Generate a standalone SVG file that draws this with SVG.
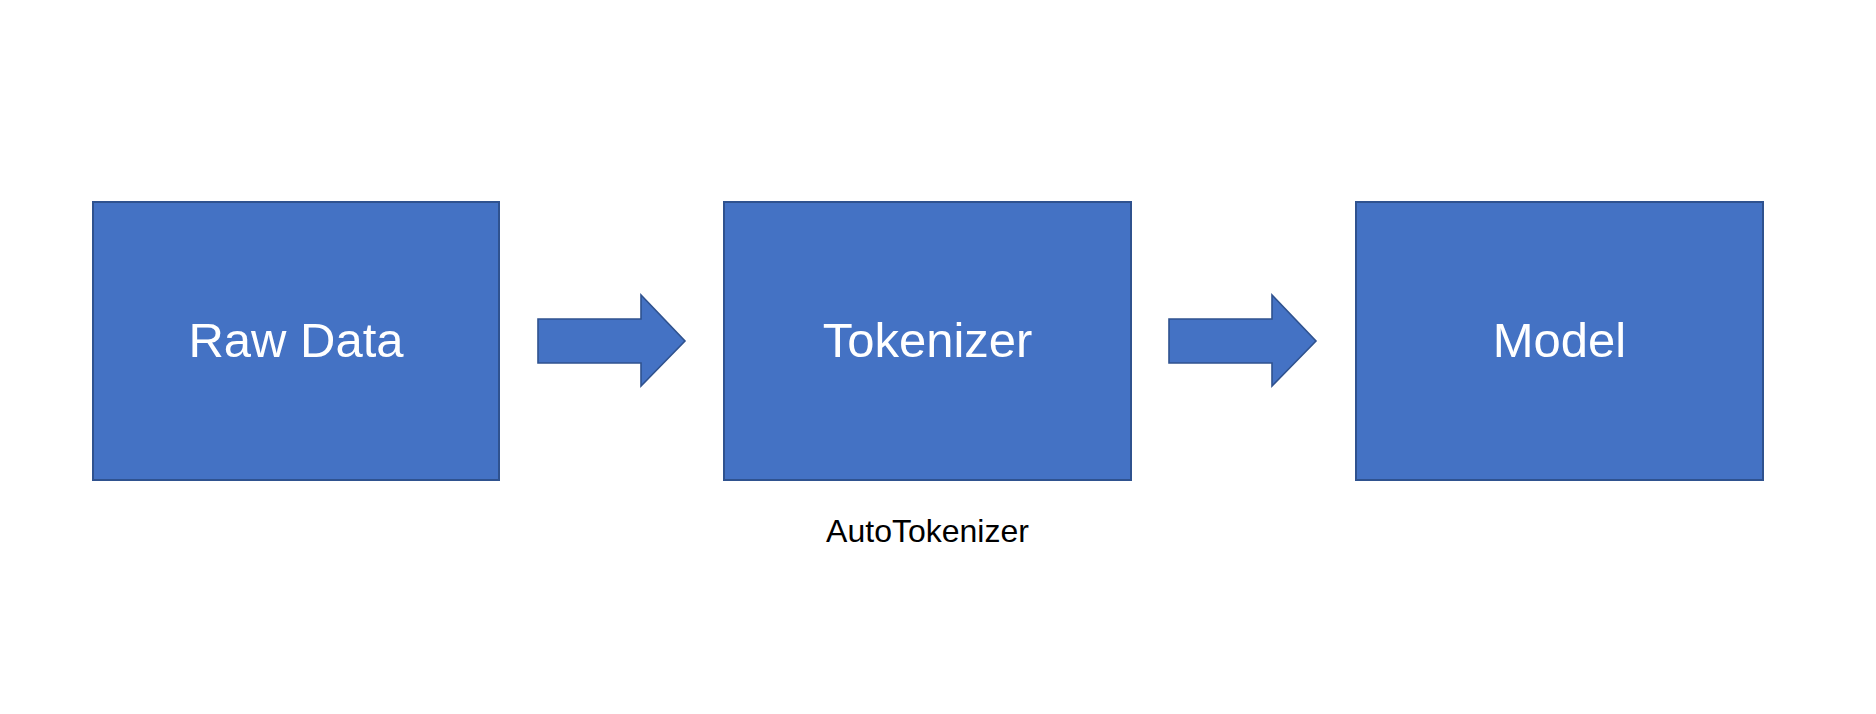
<svg xmlns="http://www.w3.org/2000/svg" width="1876" height="714" viewBox="0 0 1876 714">
<style>
.box{fill:#4472C4;stroke:#2F528F;stroke-width:2}
.arr{fill:#4472C4;stroke:#2F528F;stroke-width:1.6;stroke-linejoin:miter}
.lbl{font-family:"Liberation Sans",Arial,sans-serif;font-size:49px;fill:#FFFFFF;text-anchor:middle}
.cap{font-family:"Liberation Sans",Arial,sans-serif;font-size:32px;fill:#000000;text-anchor:middle}
</style>
<rect width="1876" height="714" fill="#FFFFFF"/>
<g id="raw-data">
<rect class="box" x="93" y="202" width="406" height="278"/>
<text class="lbl" x="296" y="357">Raw Data</text>
</g>
<g id="tokenizer">
<rect class="box" x="724" y="202" width="407" height="278"/>
<text class="lbl" x="927.5" y="357">Tokenizer</text>
<text class="cap" x="927.5" y="542">AutoTokenizer</text>
</g>
<g id="model">
<rect class="box" x="1356" y="202" width="407" height="278"/>
<text class="lbl" x="1559.5" y="357">Model</text>
</g>
<g id="connectors">
<path class="arr" d="M538,319 H641 V295 L685,341 L641,386 V363 H538 Z"/>
<path class="arr" d="M1169,319 H1272 V295 L1316,341 L1272,386 V363 H1169 Z"/>
</g>
</svg>
